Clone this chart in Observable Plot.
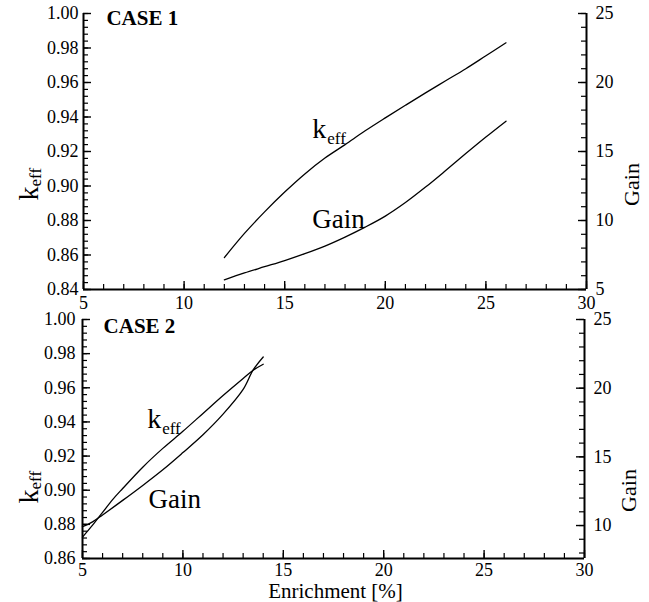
<!DOCTYPE html>
<html><head><meta charset="utf-8">
<script src="https://cdn.jsdelivr.net/npm/d3@7"></script>
<script src="https://cdn.jsdelivr.net/npm/@observablehq/plot@0.6"></script>
<style>
body{margin:0;background:#fff;font-family:serif;}
#chart svg{display:block;}
</style></head><body><div id="chart"></div>
<script>
// ---------- data ----------
const xTicks = [5, 10, 15, 20, 25, 30];

// CASE 1
const enrichTop = [12, 13, 14, 15, 16, 17, 18, 19, 20, 21, 22, 23, 24, 25, 26];
const keffTop   = [0.8585, 0.8725, 0.885, 0.8965, 0.907, 0.9162, 0.924, 0.932, 0.9395, 0.9468, 0.954, 0.961, 0.968, 0.9755, 0.983];
const gainTop   = [5.7, 6.2, 6.65, 7.1, 7.6, 8.15, 8.8, 9.52, 10.32, 11.3, 12.42, 13.62, 14.85, 16.05, 17.2];
const keffTicksTop = [0.84, 0.86, 0.88, 0.90, 0.92, 0.94, 0.96, 0.98, 1.00];
const gainTicksTop = [5, 10, 15, 20, 25];

// CASE 2
const enrichKeffBot = [5, 5.5, 6, 6.5, 7, 8, 9, 10, 11, 12, 13, 13.5, 14];
const keffBot       = [0.8725, 0.8795, 0.887, 0.8945, 0.901, 0.9135, 0.9245, 0.9345, 0.945, 0.9555, 0.9655, 0.9703, 0.9738];
const enrichGainBot = [5, 5.5, 6, 7, 8, 9, 10, 11, 12, 13, 13.5, 14];
const gainBot       = [9.92, 10.27, 10.77, 11.83, 12.92, 14.06, 15.31, 16.61, 18.11, 19.91, 21.33, 22.27];
const keffTicksBot = [0.86, 0.88, 0.90, 0.92, 0.94, 0.96, 0.98, 1.00];
const gainTicksBot = [10, 15, 20, 25];

// ---------- drawing ----------
const W = 649;
const FONT = "serif";

function makePanel(c) {
  const [k0, k1] = c.kDomain;
  const toK = g => k1 - (c.gMax - g) * (k1 - k0) / (c.gMax - c.gMin);
  const toG = k => c.gMax - (k1 - k) * (c.gMax - c.gMin) / (k1 - k0);
  const fw = W - c.ml - c.mr, fh = c.h - c.mt - c.mb;
  const kMinor = d3.range(Math.round(k0 * 1000), Math.round(k1 * 1000) + 1, 4).map(v => v / 1000);
  const gMinor = d3.range(Math.ceil(c.gMin), c.gMax + 1, 1);
  const xMinor = d3.range(5, 31, 1);
  const keffData = c.enrichK.map((e, i) => ({e, v: c.keff[i]}));
  const gainData = c.enrichG.map((e, i) => ({e, v: c.gain[i]}));
  const screenText = (t, X, Y, o) => Plot.text([t], {frameAnchor: "top-left", dx: X - c.ml, dy: Y - c.mt, fontFamily: FONT, lineAnchor: "bottom", fill: "#000", ...o});
  const dataText = (t, x, y, o) => Plot.text([t], {x: () => x, y: () => y, fontFamily: FONT, lineAnchor: "bottom", textAnchor: "start", fill: "#000", ...o});

  const marks = [
    Plot.tickY(kMinor, {y: d => d, insetRight: fw - 5, stroke: "#000", strokeWidth: 1.2}),
    Plot.tickY(c.kTicks, {y: d => d, insetRight: fw - 8, stroke: "#000", strokeWidth: 1.4}),
    Plot.tickY(gMinor.map(toK), {y: d => d, insetLeft: fw - 5, stroke: "#000", strokeWidth: 1.2}),
    Plot.tickY(c.gTicks.map(toK), {y: d => d, insetLeft: fw - 8, stroke: "#000", strokeWidth: 1.4}),
    Plot.tickX(xMinor, {x: d => d, insetTop: fh - 5, stroke: "#000", strokeWidth: 1.2}),
    Plot.tickX(xTicks, {x: d => d, insetTop: fh - 8, stroke: "#000", strokeWidth: 1.4}),
    Plot.ruleX([5, 30], {stroke: "#000", strokeWidth: 2}),
    Plot.ruleY([k0], {stroke: "#000", strokeWidth: 2}),
    Plot.axisY(c.kTicks, {anchor: "left", tickSize: 0, tickPadding: c.padL, tickFormat: d => d.toFixed(2), label: null, fontSize: 18, fontFamily: FONT, fill: "#000"}),
    Plot.axisY(c.gTicks.map(toK), {anchor: "right", tickSize: 0, tickPadding: 9, tickFormat: d => String(Math.round(toG(d))), label: null, fontSize: 18, fontFamily: FONT, fill: "#000"}),
    Plot.axisX(xTicks, {anchor: "bottom", tickSize: 0, tickPadding: c.padX, label: null, fontSize: 18, fontFamily: FONT, fill: "#000"}),
    Plot.line(keffData, {x: "e", y: "v", stroke: "#000", strokeWidth: 1.3, curve: "catmull-rom"}),
    Plot.line(gainData, {x: "e", y: d => toK(d.v), stroke: "#000", strokeWidth: 1.3, curve: "catmull-rom"}),
    // in-plot labels
    dataText(c.caseLabel, c.caseX, c.caseY, {fontSize: 21, fontWeight: "bold"}),
    dataText("k", c.kx, c.ky, {fontSize: 28}),
    dataText("eff", c.kx, c.ky, {fontSize: 17, dx: 15, dy: 6}),
    dataText("Gain", c.gx, c.gy, {fontSize: 27}),
    // axis titles
    screenText("k", 37, c.leftY, {fontSize: 28, rotate: -90, textAnchor: "start"}),
    screenText("eff", 40, c.leftY - 14, {fontSize: 17, rotate: -90, textAnchor: "start"}),
    screenText("Gain", c.rightX, c.rightY, {fontSize: 22, rotate: -90, textAnchor: "middle"})
  ];
  if (c.xTitle) marks.push(screenText(c.xTitle, 335, c.xTitleY, {fontSize: 21, textAnchor: "middle"}));

  const svg = Plot.plot({
    width: W, height: c.h,
    marginTop: c.mt, marginBottom: c.mb, marginLeft: c.ml, marginRight: c.mr,
    x: {domain: [5, 30]},
    y: {domain: c.kDomain},
    style: {fontFamily: FONT, fontSize: "18px", background: "#fff", color: "#000", overflow: "visible"},
    marks
  });
  svg.setAttribute("font-family", FONT);
  d3.select(svg).selectAll("g, text, tspan").each(function () {
    if (this.hasAttribute("font-family")) this.setAttribute("font-family", FONT);
    if (this.tagName !== "g") this.style.setProperty("font-family", FONT);
  });
  return svg;
}

const panelTop = makePanel({
  h: 310, mt: 13, mb: 21, ml: 83, mr: 63, padL: 5, padX: 7,
  kDomain: [0.84, 1.00], gMin: 5, gMax: 25,
  kTicks: keffTicksTop, gTicks: gainTicksTop,
  enrichK: enrichTop, keff: keffTop, enrichG: enrichTop, gain: gainTop,
  caseLabel: "CASE 1", caseX: 6.14, caseY: 0.9933,
  kx: 16.37, ky: 0.9281, gx: 16.37, gy: 0.8759,
  leftY: 200, rightX: 638, rightY: 184
});
const panelBot = makePanel({
  h: 292, mt: 9, mb: 44, ml: 82, mr: 65, padL: 7, padX: 5,
  kDomain: [0.86, 1.00], gMin: 7.6, gMax: 25,
  kTicks: keffTicksBot, gTicks: gainTicksBot,
  enrichK: enrichKeffBot, keff: keffBot, enrichG: enrichGainBot, gain: gainBot,
  caseLabel: "CASE 2", caseX: 6.05, caseY: 0.9918,
  kx: 8.22, ky: 0.9367, gx: 8.29, gy: 0.8893,
  leftY: 193, rightX: 635, rightY: 180,
  xTitle: "Enrichment [%]", xTitleY: 287
});
document.getElementById("chart").append(panelTop, panelBot);
</script>
</body></html>
